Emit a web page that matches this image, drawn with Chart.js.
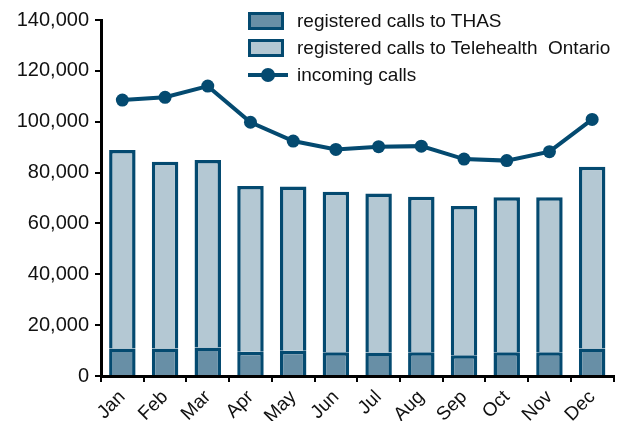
<!DOCTYPE html>
<html>
<head>
<meta charset="utf-8">
<script src="https://cdn.jsdelivr.net/npm/chart.js@4/dist/chart.umd.min.js"></script>
<style>
  html, body { margin: 0; padding: 0; background: #fff; }
  #wrap { position: relative; width: 620px; height: 421px; }
  #legend {
    position: absolute; left: 248px; top: 7px;
    font-family: 'Liberation Sans', Arial, sans-serif;
    font-size: 19px; color: #111; line-height: 27px; white-space: nowrap;
  }
  .item { display: flex; align-items: center; height: 27px; }
  .box { box-sizing: border-box; width: 36px; height: 18px; border: 3px solid #044a70; margin-right: 13px; }
  .ln { position: relative; width: 40px; height: 4px; background: #044a70; margin-right: 9px; }
  .ln:after { content: ''; position: absolute; left: 13px; top: -5px; width: 14px; height: 14px; border-radius: 50%; background: #044a70; }
</style>
</head>
<body>
<div id="wrap">
  <canvas id="c" width="620" height="421"></canvas>
  <div id="legend">
    <div class="item"><span class="box" style="background:#688fa6"></span>registered calls to THAS</div>
    <div class="item"><span class="box" style="background:#b4c8d3"></span>registered calls to Telehealth&nbsp; Ontario</div>
    <div class="item"><span class="ln"></span>incoming calls</div>
  </div>
</div>
<script>
var months = ['Jan', 'Feb', 'Mar', 'Apr', 'May', 'Jun', 'Jul', 'Aug', 'Sep', 'Oct', 'Nov', 'Dec'];
var thasCalls = [10800, 10800, 11200, 9500, 9900, 9300, 9200, 9300, 8200, 9300, 9300, 10800];
var telehealthCalls = [78100, 73500, 73700, 65200, 64600, 63200, 62600, 61200, 58700, 61000, 61000, 71500];
var incomingCalls = [108500, 109600, 114000, 99800, 92400, 89100, 90200, 90400, 85300, 84700, 88200, 100900];

var navy = '#044a70';

new Chart(document.getElementById('c'), {
    data: {
        labels: months,
        datasets: [{
            type: 'line',
            label: 'incoming calls',
            data: incomingCalls,
            borderColor: navy,
            backgroundColor: navy,
            borderWidth: 4,
            pointRadius: 6.5,
            pointBackgroundColor: navy,
            pointBorderWidth: 0,
            tension: 0,
            order: 0,
        }, {
            type: 'bar',
            label: 'registered calls to THAS',
            data: thasCalls,
            backgroundColor: '#688fa6',
            borderColor: navy,
            borderWidth: 3.5,
            categoryPercentage: 1,
            barPercentage: 0.62,
            stack: 's',
            order: 1,
        }, {
            type: 'bar',
            label: 'registered calls to Telehealth Ontario',
            data: telehealthCalls,
            backgroundColor: '#b4c8d3',
            borderColor: navy,
            borderWidth: 3.5,
            categoryPercentage: 1,
            barPercentage: 0.62,
            stack: 's',
            order: 2,
        }]
    },
    options: {
        responsive: false,
        animation: false,
        layout: { padding: { top: 20, right: 4, left: 0, bottom: 0 } },
        plugins: { legend: { display: false }, tooltip: { enabled: false } },
        scales: {
            x: {
                stacked: true,
                offset: true,
                grid: { offset: true, drawOnChartArea: false, drawTicks: true, tickLength: 6, color: '#000', lineWidth: 2 },
                border: { display: true, color: '#000', width: 3 },
                ticks: {
                    minRotation: 45, maxRotation: 45, padding: 4,
                    color: '#111',
                    font: { family: 'Liberation Sans', size: 19 }
                },
                afterFit: function(s) { s.height = 45; }
            },
            y: {
                stacked: true,
                min: 0, max: 140000,
                ticks: {
                    stepSize: 20000, padding: 6,
                    color: '#111',
                    font: { family: 'Liberation Sans', size: 20 },
                    callback: function(v) { return v.toLocaleString('en-US'); }
                },
                grid: { drawOnChartArea: false, drawTicks: true, tickLength: 6, color: '#000', lineWidth: 2 },
                border: { display: true, color: '#000', width: 3 },
                afterFit: function(s) { s.width = 101; }
            }
        }
    }
});
</script>
</body>
</html>
